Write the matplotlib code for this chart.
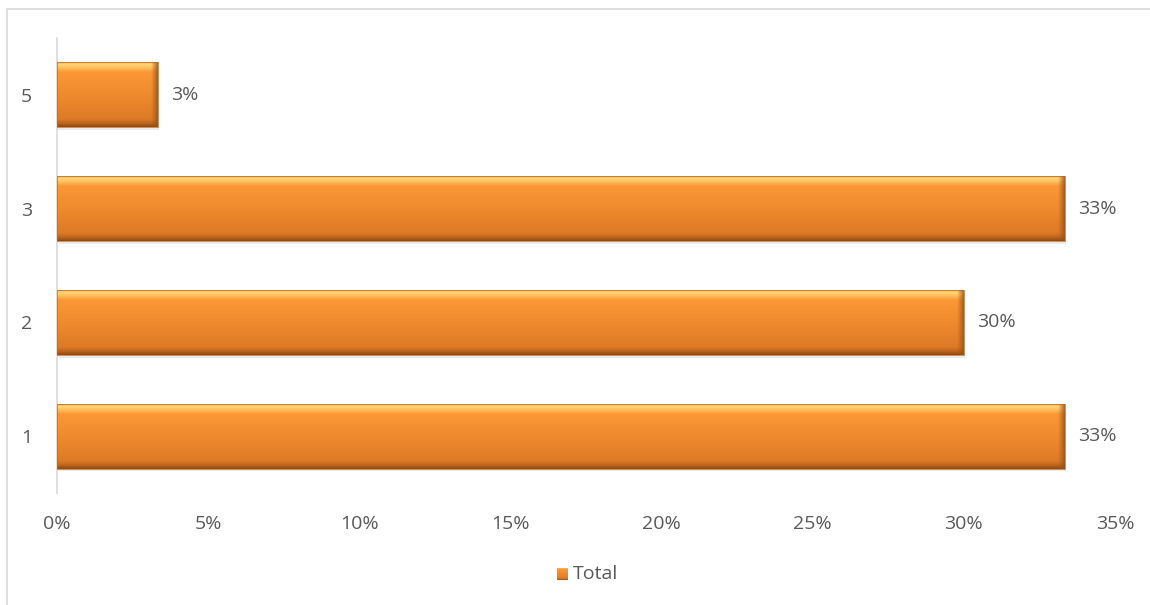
import numpy as np
import matplotlib.pyplot as plt
from matplotlib.patches import Rectangle
from matplotlib.colors import LinearSegmentedColormap

# Data
categories = ["1", "2", "3", "5"]
values = [1/3, 0.30, 1/3, 1/30]
labels = ["33%", "30%", "33%", "3%"]
xticks = [0, 0.05, 0.10, 0.15, 0.20, 0.25, 0.30, 0.35]
xtick_labels = ["0%", "5%", "10%", "15%", "20%", "25%", "30%", "35%"]

plt.rcParams['font.family'] = ['Open Sans', 'DejaVu Sans']
txt = '#595959'

fig = plt.figure(figsize=[11.5, 6.05], dpi=100)
ax = fig.add_axes([57/1150, 1 - 493/605, (1115 - 57)/1150, 455/605])

# chart border
fig.add_artist(Rectangle((7/1150, -0.01), 1.2, (605 - 9)/605 + 0.01,
                         transform=fig.transFigure, fill=False,
                         edgecolor='#d9d9d9', lw=1.2))

# vertical gradient for the bevelled bars (bottom -> top)
bevel = LinearSegmentedColormap.from_list("bevel", [
    (0.00, '#8a4a12'), (0.05, '#b8621c'), (0.12, '#dd7a26'),
    (0.50, '#f08a2e'), (0.85, '#fb9836'), (0.92, '#ffc25e'),
    (0.97, '#ffd77a'), (1.00, '#e8a048')])
grad = np.linspace(0, 1, 256).reshape(-1, 1)
# horizontal shading for the right bevel edge
edge = LinearSegmentedColormap.from_list("edge", [(0, (0.66, 0.35, 0.09, 0.0)),
                                                  (1, (0.60, 0.31, 0.08, 0.85))])
hgrad = np.linspace(0, 1, 64).reshape(1, -1)

h = 0.57
y = np.arange(len(categories))
bars = ax.barh(y, values, height=h, color='none', edgecolor='none', zorder=3)
for b, v in zip(bars, values):
    x0, y0 = b.get_x(), b.get_y()
    # soft shadow
    ax.add_patch(Rectangle((x0 + 0.0003, y0 - 0.025), v, h, facecolor='#d8d8d8',
                           edgecolor='none', alpha=0.5, zorder=2))
    im = ax.imshow(grad, cmap=bevel, aspect='auto', origin='lower',
                   extent=[x0, x0 + v, y0, y0 + h], zorder=3)
    im.set_clip_path(b)
    im2 = ax.imshow(hgrad, cmap=edge, aspect='auto', origin='lower',
                    extent=[x0 + v - 0.0022, x0 + v, y0, y0 + h], zorder=4)
    im2.set_clip_path(b)
    ax.add_patch(Rectangle((x0, y0), v, h, facecolor='none',
                           edgecolor='#c06a20', lw=0.5, zorder=5))

for yy, v, lab in zip(y, values, labels):
    ax.text(v + 0.0045, yy, lab, va='center', ha='left', fontsize=14, color=txt)

ax.set_xlim(0, 0.35)
ax.set_ylim(-0.5, len(categories) - 0.5)
ax.set_xticks(xticks)
ax.set_xticklabels(xtick_labels)
ax.set_yticks(y)
ax.set_yticklabels(categories)
ax.tick_params(axis='both', length=0, colors=txt, labelsize=14)
ax.tick_params(axis='x', pad=16)
ax.tick_params(axis='y', pad=18)
for s in ['top', 'right', 'bottom']:
    ax.spines[s].set_visible(False)
ax.spines['left'].set_color('#d9d9d9')
ax.spines['left'].set_linewidth(1.2)

# legend
lx, ly = 557/1150, 1 - 574/605
leg_im = fig.add_axes([lx, ly - 6/605, 11/1150, 12/605])
leg_im.imshow(grad, cmap=bevel, aspect='auto', origin='lower')
leg_im.axis('off')
fig.text(lx + 16/1150, ly, "Total", va='center', ha='left', fontsize=14, color=txt)

plt.savefig("out.png", dpi=100)
